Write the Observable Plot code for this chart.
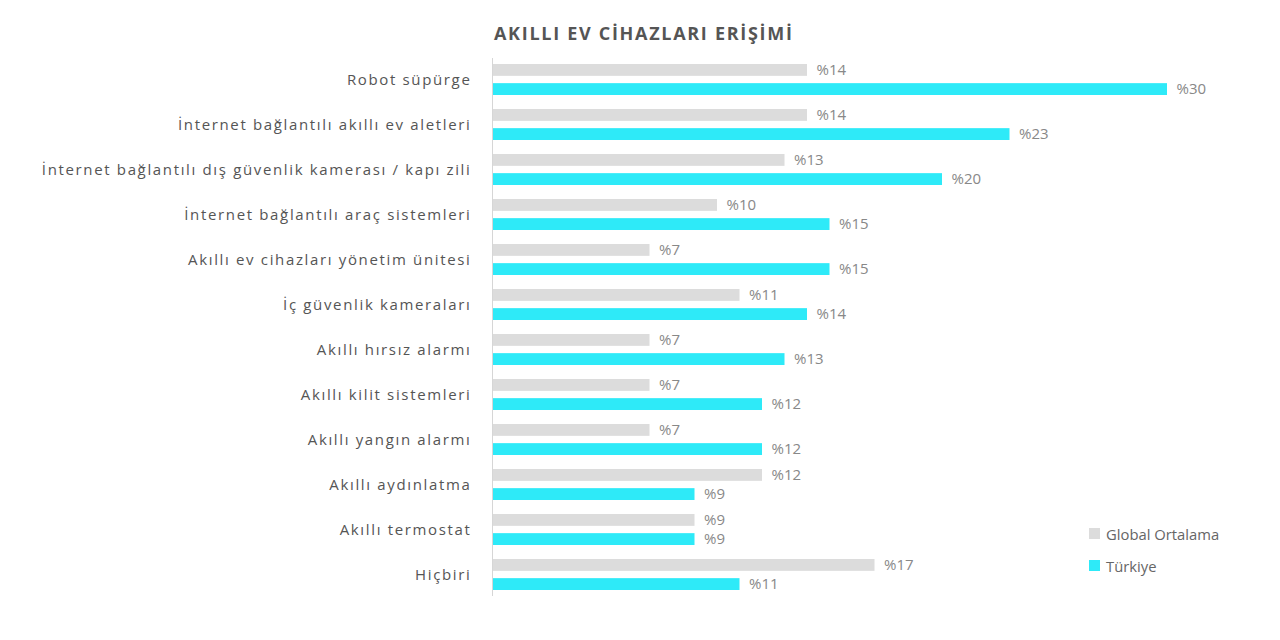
<!DOCTYPE html>
<html>
<head>
<meta charset="utf-8">
<script src="https://cdn.jsdelivr.net/npm/d3@7"></script>
<script src="https://cdn.jsdelivr.net/npm/@observablehq/plot@0.6"></script>
<style>
  html, body { margin: 0; padding: 0; background: #fff; }
  body { width: 1280px; height: 640px; position: relative; overflow: hidden; font-family: "Open Sans", sans-serif; }
  #title { position: absolute; left: 494px; top: 21px; font-size: 18px; font-weight: 700; letter-spacing: 1.7px; color: #555; white-space: nowrap; }
  #chart { position: absolute; left: 0; top: 50px; }
  #chart g[aria-label="y-axis tick label"] text { letter-spacing: 1.65px; }
  #legend { position: absolute; left: 1089px; top: 523px; font-size: 14.8px; color: #666; }
  .item { display: flex; align-items: center; height: 21px; margin-bottom: 11px; }
  .sw { width: 11px; height: 11px; margin-right: 6px; }
</style>
</head>
<body>
<div id="title">AKILLI EV CİHAZLARI ERİŞİMİ</div>
<div id="chart"></div>
<div id="legend"></div>
<script>
const categories = [
  "Robot süpürge",
  "İnternet bağlantılı akıllı ev aletleri",
  "İnternet bağlantılı dış güvenlik kamerası / kapı zili",
  "İnternet bağlantılı araç sistemleri",
  "Akıllı ev cihazları yönetim ünitesi",
  "İç güvenlik kameraları",
  "Akıllı hırsız alarmı",
  "Akıllı kilit sistemleri",
  "Akıllı yangın alarmı",
  "Akıllı aydınlatma",
  "Akıllı termostat",
  "Hiçbiri"
];
const globalValues = [14, 14, 13, 10, 7, 11, 7, 7, 7, 12, 9, 17];
const turkiyeValues = [30, 23, 20, 15, 15, 14, 13, 12, 12, 9, 9, 11];
const seriesNames = ["Global Ortalama", "Türkiye"];
const seriesColors = ["#dcdcdc", "#2eeaf8"];

const globalData = categories.map((c, i) => ({category: c, value: globalValues[i]}));
const turkiyeData = categories.map((c, i) => ({category: c, value: turkiyeValues[i]}));

const height = 560, marginTop = 8, marginBottom = 14;
const pi = 0.3, po = 0.1;
const step = (height - marginTop - marginBottom) / (categories.length - pi + 2 * po);
const band = step * (1 - pi);
const barH = 12.5;
const off = band / 2 - barH / 2;

const chart = Plot.plot({
  width: 1280,
  height,
  marginLeft: 492,
  marginRight: 113,
  marginTop,
  marginBottom,
  style: {fontFamily: "'Open Sans', sans-serif", fontSize: "15px", background: "transparent"},
  x: {domain: [0, 30], axis: null},
  y: {domain: categories, paddingInner: pi, paddingOuter: po, label: null},
  marks: [
    Plot.axisY({tickSize: 0, tickPadding: 21, color: "#555", fontSize: 15, label: null}),
    Plot.barX(globalData, {x: "value", y: "category", fill: seriesColors[0], insetTop: 0, insetBottom: band - barH}),
    Plot.barX(turkiyeData, {x: "value", y: "category", fill: seriesColors[1], insetTop: band - barH, insetBottom: 0}),
    Plot.ruleX([0], {stroke: "#d6d6d6", strokeWidth: 1}),
    Plot.text(globalData, {x: "value", y: "category", text: d => "%" + d.value, dx: 9, dy: -off, textAnchor: "start", fill: "#888", fontSize: 15}),
    Plot.text(turkiyeData, {x: "value", y: "category", text: d => "%" + d.value, dx: 9, dy: off, textAnchor: "start", fill: "#888", fontSize: 15})
  ]
});
document.getElementById("chart").appendChild(chart);

const legend = document.getElementById("legend");
seriesNames.forEach((n, i) => {
  const it = document.createElement("div");
  it.className = "item";
  const sw = document.createElement("div");
  sw.className = "sw";
  sw.style.background = seriesColors[i];
  const t = document.createElement("span");
  t.textContent = n;
  it.appendChild(sw);
  it.appendChild(t);
  legend.appendChild(it);
});
</script>
</body>
</html>
